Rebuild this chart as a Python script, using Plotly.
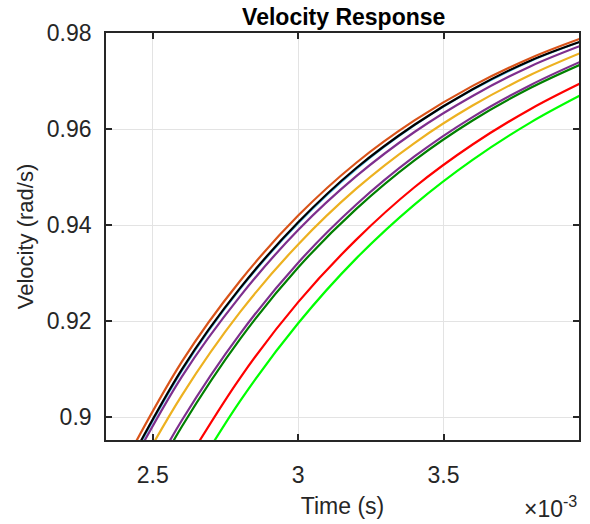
import plotly.graph_objects as go

# Time samples (s)
t_early = [2.30e-3, 2.60e-3, 2.80e-3, 3.00e-3, 3.20e-3, 3.40e-3, 3.60e-3, 3.80e-3, 3.97e-3]
t_mid = [2.40e-3, 2.60e-3, 2.80e-3, 3.00e-3, 3.20e-3, 3.40e-3, 3.60e-3, 3.80e-3, 3.97e-3]
t_late = [2.60e-3, 2.80e-3, 3.00e-3, 3.20e-3, 3.40e-3, 3.60e-3, 3.80e-3, 3.97e-3]

# Velocity values (rad/s)
v_lightblue = [0.8764, 0.9096, 0.9266, 0.9403, 0.9516, 0.9607, 0.9681, 0.9741, 0.9781]
v_purple = [0.8758, 0.9085, 0.9252, 0.9390, 0.9502, 0.9594, 0.9669, 0.9731, 0.9773]
v_black = [0.8769, 0.9100, 0.9269, 0.9406, 0.9519, 0.9609, 0.9683, 0.9743, 0.9782]
v_orange = [0.8788, 0.9116, 0.9284, 0.9420, 0.9530, 0.9618, 0.9690, 0.9748, 0.9788]
v_yellow = [0.8835, 0.9046, 0.9219, 0.9360, 0.9476, 0.9571, 0.9649, 0.9713, 0.9758]
v_purple2 = [0.8776, 0.8994, 0.9174, 0.9322, 0.9443, 0.9543, 0.9625, 0.9692, 0.9740]
v_darkgreen = [0.8761, 0.8981, 0.9163, 0.9312, 0.9434, 0.9535, 0.9618, 0.9686, 0.9734]
v_red = [0.8891, 0.9082, 0.9240, 0.9370, 0.9479, 0.9568, 0.9642, 0.9695]
v_green = [0.8840, 0.9034, 0.9196, 0.9331, 0.9443, 0.9536, 0.9614, 0.9670]

series = [
    (t_early, v_lightblue, "#4DBEEE", 1.5),
    (t_early, v_purple, "#7E2F8E", 2.2),
    (t_early, v_black, "#000000", 2.2),
    (t_early, v_orange, "#D95319", 2.2),
    (t_mid, v_yellow, "#EDB120", 2.2),
    (t_mid, v_purple2, "#7E2F8E", 2.2),
    (t_mid, v_darkgreen, "#008000", 2.2),
    (t_late, v_red, "#FF0000", 2.2),
    (t_late, v_green, "#00FF00", 2.2),
]

x_ticks = [2.5e-3, 3.0e-3, 3.5e-3]
x_tick_text = ["2.5", "3", "3.5"]
y_ticks = [0.90, 0.92, 0.94, 0.96, 0.98]
y_tick_text = ["0.9", "0.92", "0.94", "0.96", "0.98"]

fig = go.Figure()
for t, v, c, w in series:
    fig.add_trace(go.Scatter(x=t, y=v, mode="lines",
                             line=dict(color=c, width=w, shape="spline", smoothing=1.0),
                             showlegend=False, hoverinfo="skip"))

font_family = "Liberation Sans, Arial, Helvetica, sans-serif"
axis_color = "#262626"

fig.update_layout(
    width=590, height=524,
    margin=dict(l=106, r=9, t=33, b=78),
    paper_bgcolor="white", plot_bgcolor="white",
    font=dict(family=font_family, size=23, color=axis_color),
    title=dict(text="<b>Velocity Response</b>", x=0.5826, xanchor="center",
               y=1 - 17 / 524, yanchor="middle", yref="container",
               font=dict(size=23, color="#000000", family=font_family)),
    showlegend=False,
)

fig.update_xaxes(
    range=[2.339e-3, 3.966e-3],
    tickvals=x_ticks, ticktext=x_tick_text,
    ticks="inside", ticklen=6, tickwidth=1.5, tickcolor=axis_color,
    showline=True, linecolor=axis_color, linewidth=1.6, mirror="ticks",
    showgrid=True, gridcolor="#E3E3E3", gridwidth=1,
    zeroline=False, ticklabelstandoff=14,
    title=dict(text="Time (s)", standoff=10, font=dict(size=23)),
    tickfont=dict(size=23),
)
fig.update_yaxes(
    range=[0.8953, 0.98],
    tickvals=y_ticks, ticktext=y_tick_text,
    ticks="inside", ticklen=6, tickwidth=1.5, tickcolor=axis_color,
    showline=True, linecolor=axis_color, linewidth=1.6, mirror="ticks",
    showgrid=True, gridcolor="#E3E3E3", gridwidth=1,
    zeroline=False, ticklabelstandoff=8,
    title=dict(text="Velocity (rad/s)", standoff=7, font=dict(size=22)),
    tickfont=dict(size=23),
)

fig.add_annotation(
    text="×10<sup>-3</sup>", xref="paper", yref="paper",
    x=1.0, y=-0.165, xanchor="right", yanchor="middle",
    showarrow=False, font=dict(size=23, color=axis_color, family=font_family),
)

fig.write_html("out.html")
